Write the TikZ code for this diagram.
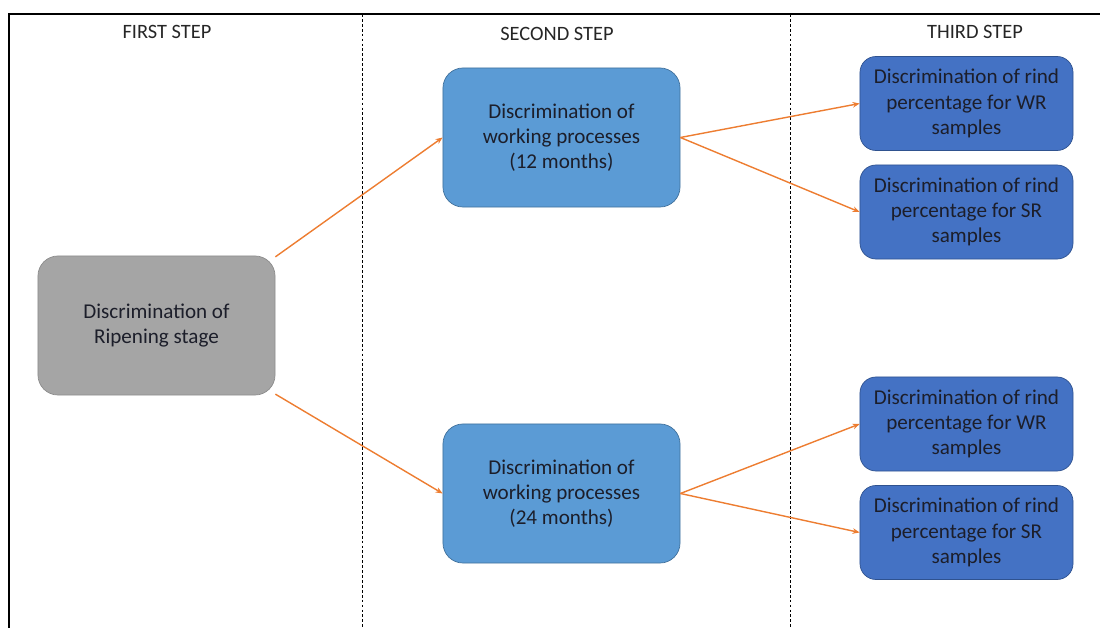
\documentclass[tikz,border=0pt]{standalone}
\usepackage{fontspec}
\setmainfont{Carlito}
\usetikzlibrary{positioning,arrows.meta}
\definecolor{ripegray}{RGB}{165,165,165}
\definecolor{ripeedge}{RGB}{140,140,140}
\definecolor{procblue}{RGB}{91,155,213}
\definecolor{procedge}{RGB}{65,113,156}
\definecolor{rindblue}{RGB}{68,114,196}
\definecolor{rindedge}{RGB}{47,82,143}
\definecolor{arrorange}{RGB}{237,125,49}
\definecolor{boxtext}{RGB}{28,30,42}

\begin{document}
\begin{tikzpicture}[x=0.025cm,y=-0.025cm,
  box/.style={rectangle,rounded corners=0.5cm,draw,align=center,
              font=\fontsize{15}{18}\selectfont,text=boxtext,
              minimum width=5.925cm,minimum height=3.475cm,line width=0.5pt},
  ripe/.style={box,fill=ripegray,draw=ripeedge},
  proc/.style={box,fill=procblue,draw=procedge},
  rind/.style={box,fill=rindblue,draw=rindedge,rounded corners=0.4cm,
               minimum width=5.325cm,minimum height=2.35cm},
  head/.style={font=\fontsize{14.5}{17}\selectfont,text=black!85},
  sep/.style={dash pattern=on 2pt off 1.5pt,line width=0.5pt},
  arr/.style={-{Stealth[length=5pt,width=4pt]},arrorange,line width=1pt}
]
\useasboundingbox (0,0) rectangle (1100,628);
% frame and column separators
\draw[line width=1.4pt] (9,628) -- (9,14) -- (1100,14);
\draw[sep] (362,14) -- (362,628);
\draw[sep] (790,14) -- (790,628);

\node[head] (h1) at (167,32) {FIRST STEP};
\node[head] (h2) at (557,34) {SECOND STEP};
\node[head] (h3) at (975,32) {THIRD STEP};

\node[ripe] (ripen) at (156.5,325.5) {Discrimination of\\Ripening stage};
\node[proc] (work12) at (561.5,137.5) {Discrimination of\\working processes\\(12 months)};
\node[proc] (work24) at (561.5,493.5) {Discrimination of\\working processes\\(24 months)};
\node[rind] (wr12) at (966.5,103.5) {Discrimination of rind\\percentage for WR\\samples};
\node[rind] (sr12) at (966.5,212) {Discrimination of rind\\percentage for SR\\samples};
\node[rind] (wr24) at (966.5,424) {Discrimination of rind\\percentage for WR\\samples};
\node[rind] (sr24) at (966.5,532.5) {Discrimination of rind\\percentage for SR\\samples};

\draw[arr] (ripen.30) -- (work12.west);
\draw[arr] (ripen.-30) -- (work24.west);
\draw[arr] (work12.east) -- (wr12.west);
\draw[arr] (work12.east) -- (sr12.west);
\draw[arr] (work24.east) -- (wr24.west);
\draw[arr] (work24.east) -- (sr24.west);
\end{tikzpicture}
\end{document}
